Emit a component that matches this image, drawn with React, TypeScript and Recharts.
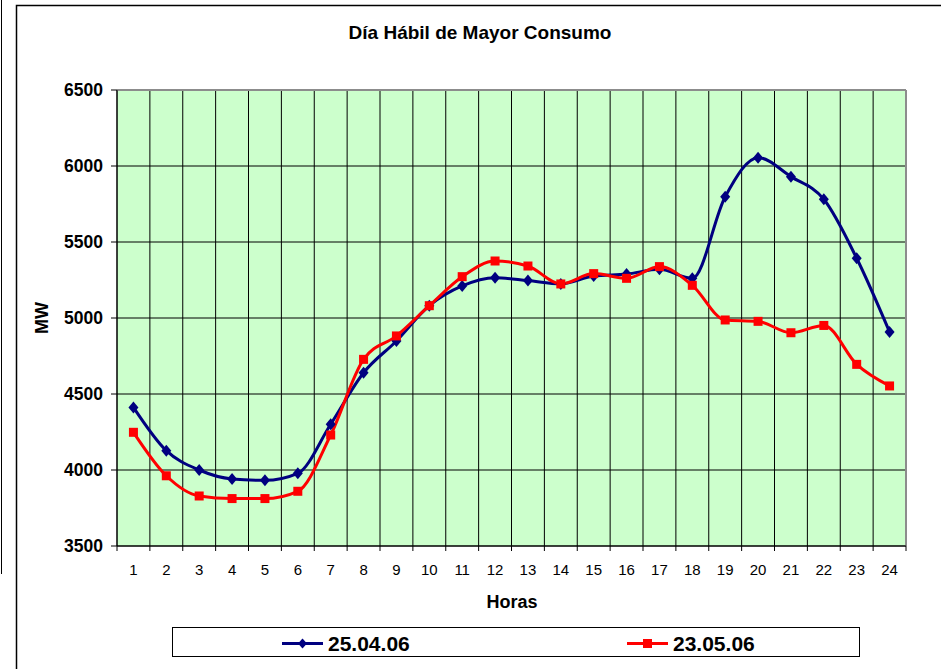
import React from 'react'
import {
  LineChart,
  Line,
  XAxis,
  YAxis,
  CartesianGrid,
  ReferenceLine,
} from 'recharts'

const horas = [1, 2, 3, 4, 5, 6, 7, 8, 9, 10, 11, 12, 13, 14, 15, 16, 17, 18, 19, 20, 21, 22, 23, 24]
const bordes = [0.5, 1.5, 2.5, 3.5, 4.5, 5.5, 6.5, 7.5, 8.5, 9.5, 10.5, 11.5, 12.5, 13.5, 14.5, 15.5, 16.5, 17.5, 18.5, 19.5, 20.5, 21.5, 22.5, 23.5, 24.5]
const mwTicks = [3500, 4000, 4500, 5000, 5500, 6000, 6500]

const consumo250406 = [
  4412, 4127, 4000, 3941, 3932, 3978, 4301, 4640, 4849, 5081, 5211, 5265,
  5246, 5224, 5276, 5289, 5320, 5261, 5798, 6055, 5930, 5781, 5393, 4908,
]
const consumo230506 = [
  4248, 3962, 3829, 3812, 3812, 3860, 4230, 4728, 4882, 5081, 5272, 5375,
  5342, 5224, 5292, 5261, 5338, 5215, 4987, 4978, 4903, 4951, 4695, 4553,
]

const series = [
  { key: 'd250406', name: '25.04.06', color: '#000080', values: consumo250406 },
  { key: 'd230506', name: '23.05.06', color: '#FF0000', values: consumo230506 },
]

const data = horas.map((h, i) => ({
  hora: h,
  d250406: consumo250406[i],
  d230506: consumo230506[i],
}))

const FONT = '"Liberation Sans", Arial, sans-serif'

const Diamond = (props: any) => {
  const { cx, cy } = props
  if (cx == null || cy == null) return null
  return <path d={`M${cx},${cy - 6}L${cx + 5},${cy}L${cx},${cy + 6}L${cx - 5},${cy}Z`} fill="#000080" />
}

const Square = (props: any) => {
  const { cx, cy } = props
  if (cx == null || cy == null) return null
  return <rect x={cx - 4.5} y={cy - 4.5} width={9} height={9} fill="#FF0000" />
}

const Overlay = () => (
  <svg
    width={941}
    height={669}
    style={{ position: 'absolute', left: 0, top: 0, pointerEvents: 'none', fontFamily: FONT }}
  >
    {/* marcos */}
    <line x1={1.5} y1={0} x2={1.5} y2={574} stroke="#000" strokeWidth={1} />
    <path d="M16.5,669 L16.5,5.5 L941,5.5" fill="none" stroke="#000" strokeWidth={1.5} />

    <text x={480} y={39} textAnchor="middle" fontSize={19} fontWeight="bold" fill="#000">
      Día Hábil de Mayor Consumo
    </text>
    <text x={512} y={608} textAnchor="middle" fontSize={18} fontWeight="bold" fill="#000">
      Horas
    </text>
    <text
      x={48}
      y={318}
      textAnchor="middle"
      fontSize={18}
      fontWeight="bold"
      fill="#000"
      transform="rotate(-90 48 318)"
    >
      MW
    </text>

    {/* leyenda */}
    <rect x={172.5} y={627.5} width={687} height={29} fill="#fff" stroke="#000" strokeWidth={1} />
    <line x1={282} y1={643.5} x2={323} y2={643.5} stroke="#000080" strokeWidth={3} />
    <path d="M302.5,638.5L307,643.5L302.5,648.5L298,643.5Z" fill="#000080" />
    <text x={328} y={651} fontSize={21} fontWeight="bold" fill="#000">
      {series[0].name}
    </text>
    <line x1={627} y1={643.5} x2={668} y2={643.5} stroke="#FF0000" strokeWidth={3} />
    <rect x={643} y={639} width={9} height={9} fill="#FF0000" />
    <text x={673} y={651} fontSize={21} fontWeight="bold" fill="#000">
      {series[1].name}
    </text>
  </svg>
)

export default function App() {
  return (
    <div style={{ position: 'relative', width: 941, height: 669, background: '#fff', fontFamily: FONT }}>
      <style>{`body{margin:0}`}</style>
      <LineChart width={941} height={669} data={data} margin={{ top: 90, right: 35, left: 57, bottom: 92 }}>
        <CartesianGrid xAxisId="edge" stroke="#000" strokeWidth={1} fill="#CCFFCC" fillOpacity={1} />
        <XAxis
          xAxisId="edge"
          type="number"
          dataKey="hora"
          domain={[0.5, 24.5]}
          ticks={bordes}
          interval={0}
          tickFormatter={() => ''}
          tickSize={5}
          height={1}
          axisLine={{ stroke: '#000' }}
          tickLine={{ stroke: '#000' }}
        />
        <XAxis
          xAxisId="hora"
          type="number"
          dataKey="hora"
          domain={[0.5, 24.5]}
          ticks={horas}
          interval={0}
          height={30}
          axisLine={false}
          tickLine={false}
          tickSize={6}
          tickMargin={11}
          tick={{ fontSize: 15, fill: '#000', fontFamily: FONT }}
        />
        <YAxis
          width={60}
          domain={[3500, 6500]}
          ticks={mwTicks}
          interval={0}
          tickSize={6}
          tickMargin={8}
          axisLine={{ stroke: '#000' }}
          tickLine={{ stroke: '#000' }}
          tick={{ fontSize: 17.5, fontWeight: 'bold', fill: '#000', fontFamily: FONT }}
        />
        <ReferenceLine y={6500} xAxisId="edge" stroke="#8c8c8c" strokeWidth={2} />
        <ReferenceLine x={24.5} xAxisId="edge" stroke="#8c8c8c" strokeWidth={2} />
        <Line
          xAxisId="hora"
          type="monotone"
          dataKey="d250406"
          name={series[0].name}
          stroke={series[0].color}
          strokeWidth={3}
          dot={<Diamond />}
          isAnimationActive={false}
        />
        <Line
          xAxisId="hora"
          type="monotone"
          dataKey="d230506"
          name={series[1].name}
          stroke={series[1].color}
          strokeWidth={3}
          dot={<Square />}
          isAnimationActive={false}
        />
      </LineChart>
      <Overlay />
    </div>
  )
}
